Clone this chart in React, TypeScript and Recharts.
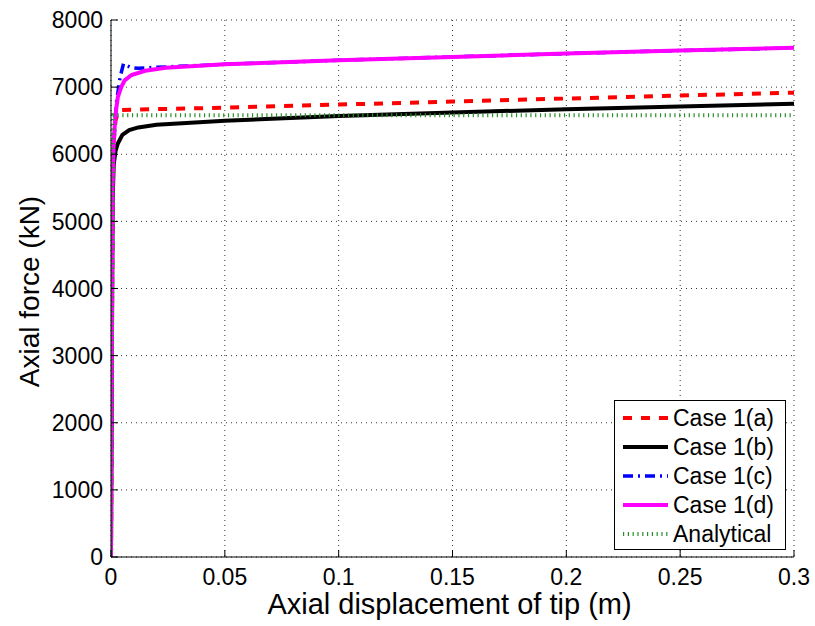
import React from "react";
import { CartesianGrid, Label, Legend, Line, LineChart, XAxis, YAxis } from "recharts";

// tip displacement (m) / axial force (kN) pairs
const caseA: [number, number][] = [
  [0, 0], [0.0007, 5500], [0.0012, 6200], [0.002, 6500], [0.003, 6620], [0.0045, 6660],
  [0.01, 6665], [0.05, 6694], [0.1, 6740], [0.15, 6785], [0.2, 6830], [0.25, 6875], [0.3, 6917],
];
const caseB: [number, number][] = [
  [0, 0], [0.0007, 5300], [0.0012, 5850], [0.002, 6050], [0.003, 6160], [0.005, 6290],
  [0.008, 6360], [0.012, 6400], [0.02, 6440], [0.05, 6500], [0.1, 6570], [0.15, 6622], [0.2, 6670], [0.25, 6712], [0.3, 6753],
];
const caseC: [number, number][] = [
  [0, 0], [0.0007, 5500], [0.0015, 6300], [0.0025, 6800], [0.004, 7150], [0.0055, 7350],
  [0.007, 7320], [0.009, 7290], [0.012, 7280], [0.02, 7295], [0.05, 7340], [0.1, 7400],
  [0.15, 7450], [0.2, 7500], [0.25, 7545], [0.3, 7585],
];
const caseD: [number, number][] = [
  [0, 0], [0.0007, 5500], [0.0012, 6200], [0.002, 6600], [0.003, 6850], [0.0045, 7000],
  [0.006, 7100], [0.009, 7180], [0.015, 7243], [0.024, 7288], [0.05, 7340], [0.1, 7400],
  [0.15, 7450], [0.2, 7500], [0.25, 7545], [0.3, 7585],
];
const analytical: [number, number][] = [[0, 0], [0.0008, 6580], [0.3, 6580]];

const xTicks = [0, 0.05, 0.1, 0.15, 0.2, 0.25, 0.3];
const yTicks = [0, 1000, 2000, 3000, 4000, 5000, 6000, 7000, 8000];

const toPoints = (pts: [number, number][]) => pts.map(([x, y]) => ({ x, y }));

const series = [
  { name: "Case 1(a)", pts: caseA, color: "#ff0000", dash: "9 9", width: 4 },
  { name: "Case 1(b)", pts: caseB, color: "#000000", dash: undefined, width: 4 },
  { name: "Case 1(c)", pts: caseC, color: "#0000ff", dash: "10 5 2 5", width: 3.5 },
  { name: "Case 1(d)", pts: caseD, color: "#ff00ff", dash: undefined, width: 4 },
  { name: "Analytical", pts: analytical, color: "#2a8f2a", dash: "1.2 3.6", width: 4 },
];

const FONT = "'Liberation Sans', Arial, sans-serif";

const LegendBox = () => (
  <svg width={172} height={150} style={{ display: "block", background: "#fff" }}>
    <rect x={0.5} y={0.5} width={171} height={149} fill="#fff" stroke="#000" />
    {series.map((s, i) => {
      const cy = 18 + i * 29;
      return (
        <g key={s.name}>
          <line x1={9} x2={54} y1={cy} y2={cy} stroke={s.color} strokeWidth={s.width} strokeDasharray={s.dash} />
          <text x={59} y={cy} dominantBaseline="central" fontSize={23} fontFamily={FONT} fill="#000">
            {s.name}
          </text>
        </g>
      );
    })}
  </svg>
);

export default function App() {
  return (
    <div style={{ position: "absolute", left: 0, top: 0, fontFamily: FONT }}>
      <LineChart width={815} height={626} margin={{ top: 20, right: 21, left: 51, bottom: 29 }}>
        <CartesianGrid stroke="#333" strokeDasharray="1 4" />
        <XAxis
          type="number"
          dataKey="x"
          domain={[0, 0.3]}
          ticks={xTicks}
          allowDataOverflow
          height={40}
          tickSize={-7}
          tickMargin={19}
          stroke="#000"
          tick={{ fill: "#000", fontSize: 23, fontFamily: FONT }}
        >
          <Label
            content={({ viewBox }: any) => (
              <text x={viewBox.x + viewBox.width / 2 - 3} y={viewBox.y + 57} textAnchor="middle" fontSize={29} fontFamily={FONT} fill="#000">
                Axial displacement of tip (m)
              </text>
            )}
          />
        </XAxis>
        <XAxis
          xAxisId="top"
          orientation="top"
          type="number"
          dataKey="x"
          domain={[0, 0.3]}
          ticks={xTicks}
          height={0}
          tickSize={-7}
          tickFormatter={() => ""}
          stroke="#000"
        />
        <YAxis
          type="number"
          domain={[0, 8000]}
          ticks={yTicks}
          width={60}
          tickSize={-7}
          tickMargin={15}
          stroke="#000"
          tick={{ fill: "#000", fontSize: 23, fontFamily: FONT }}
        >
          <Label
            content={({ viewBox }: any) => {
              const cx = viewBox.x - 22;
              const cy = viewBox.y + viewBox.height / 2 + 3;
              return (
                <text x={cx} y={cy} transform={`rotate(-90, ${cx}, ${cy})`} textAnchor="middle" dominantBaseline="central" fontSize={28} fontFamily={FONT} fill="#000">
                  Axial force (kN)
                </text>
              );
            }}
          />
        </YAxis>
        <YAxis
          yAxisId="right"
          orientation="right"
          type="number"
          domain={[0, 8000]}
          ticks={yTicks}
          width={0}
          tickSize={-7}
          tickFormatter={() => ""}
          stroke="#000"
        />
        {series.map((s) => (
          <Line
            key={s.name}
            name={s.name}
            data={toPoints(s.pts)}
            dataKey="y"
            type="linear"
            stroke={s.color}
            strokeWidth={s.width}
            strokeDasharray={s.dash}
            dot={false}
            activeDot={false}
            isAnimationActive={false}
          />
        ))}
        <Legend
          layout="vertical"
          align="center"
          verticalAlign="middle"
          content={() => <LegendBox />}
          wrapperStyle={{ position: "absolute", left: 614, top: 400, width: 172, height: 150 }}
        />
      </LineChart>
    </div>
  );
}
